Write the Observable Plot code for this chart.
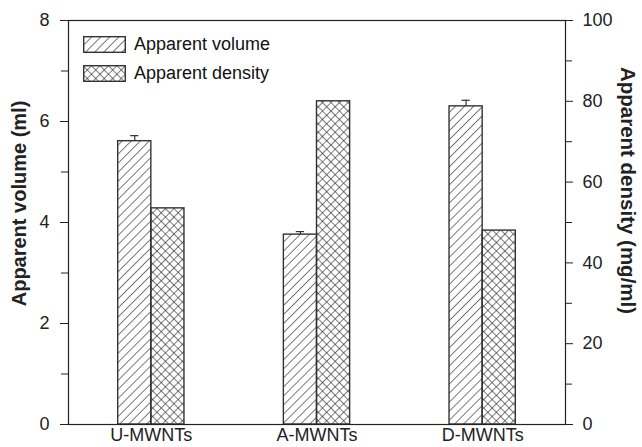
<!DOCTYPE html>
<html>
<head>
<meta charset="utf-8">
<script src="https://cdn.jsdelivr.net/npm/d3@7"></script>
<script src="https://cdn.jsdelivr.net/npm/@observablehq/plot@0.6"></script>
<style>
  body { margin: 0; background: #fff; }
  #chart { position: relative; width: 642px; height: 447px; font-family: "Liberation Sans", Arial, sans-serif; }
  #legend { position: absolute; left: 83px; top: 36px; font-size: 18px; color: #111; }
  #legend .row { display: flex; align-items: center; height: 16px; margin-bottom: 13px; }
  #legend svg { margin-right: 8px; display: block; }
</style>
</head>
<body>
<svg width="0" height="0" style="position:absolute">
  <defs>
    <pattern id="hatch-volume" patternUnits="userSpaceOnUse" width="6.4" height="6.4" patternTransform="rotate(45)">
      <line x1="0" y1="0" x2="0" y2="6.4" stroke="#222" stroke-width="1.2"/>
    </pattern>
    <pattern id="hatch-density" patternUnits="userSpaceOnUse" width="6" height="6" patternTransform="rotate(45)">
      <line x1="0" y1="0" x2="0" y2="6" stroke="#222" stroke-width="1.2"/>
      <line x1="0" y1="0" x2="6" y2="0" stroke="#222" stroke-width="1.2"/>
    </pattern>
  </defs>
</svg>
<div id="chart"></div>
<script>
// Bulk properties of the three nanotube samples
const categories = ["U-MWNTs", "A-MWNTs", "D-MWNTs"];
const volume = [5.61, 3.76, 6.30];          // ml
const volumeErr = [0.11, 0.06, 0.12];       // ml
const density = [53.5, 80.0, 48.0];         // mg/ml
const volumeTicks = [0, 2, 4, 6, 8];
const volumeMinor = [1, 3, 5, 7];
const densityTicks = [0, 20, 40, 60, 80, 100];
const densityMinor = [10, 30, 50, 70, 90];

// density is drawn on the volume scale, rescaled so 100 mg/ml sits at 8 ml
const volMax = volumeTicks[volumeTicks.length - 1];
const denMax = densityTicks[densityTicks.length - 1];
const toVol = d => d * volMax / denMax;

const rows = categories.map((c, i) => ({
  pos: i + 1, name: c, volume: volume[i], err: volumeErr[i], density: density[i]
}));
const barW = 0.2;
const capW = 0.025;

const ink = "#222";
const plot = Plot.plot({
  width: 642,
  height: 447,
  marginLeft: 68,
  marginRight: 77,
  marginTop: 20,
  marginBottom: 23,
  style: { fontFamily: "Liberation Sans, Arial, sans-serif", fontSize: "18px", color: ink, background: "#fff" },
  x: { domain: [0.5, 3.5] },
  y: { domain: [0, volMax] },
  marks: [
    Plot.rectY(rows, { x1: d => d.pos - barW, x2: d => d.pos, y1: 0, y2: "volume",
      fill: "url(#hatch-volume)", stroke: "#333", strokeWidth: 1.4 }),
    Plot.rectY(rows, { x1: d => d.pos, x2: d => d.pos + barW, y1: 0, y2: d => toVol(d.density),
      fill: "url(#hatch-density)", stroke: "#333", strokeWidth: 1.4 }),
    // error bars on the volume bars
    Plot.ruleX(rows, { x: d => d.pos - barW / 2, y1: "volume", y2: d => d.volume + d.err, stroke: "#333", strokeWidth: 1.2 }),
    Plot.ruleY(rows, { y: d => d.volume + d.err, x1: d => d.pos - barW / 2 - capW, x2: d => d.pos - barW / 2 + capW, stroke: "#333", strokeWidth: 1.2 }),
    Plot.frame({ stroke: ink, strokeWidth: 1.2 }),
    // left axis: apparent volume
    Plot.axisY(volumeTicks, { anchor: "left", tickSize: 8, tickPadding: 11, tickFormat: v => String(v), label: null, stroke: ink }),
    Plot.axisY(volumeMinor, { anchor: "left", tickSize: 7, tickFormat: () => "", label: null, stroke: ink }),
    // right axis: apparent density
    Plot.axisY(densityTicks.map(toVol), { anchor: "right", tickSize: 7, tickPadding: 10,
      tickFormat: v => String(Math.round(v * denMax / volMax)), label: null, stroke: ink }),
    Plot.axisY(densityMinor.map(toVol), { anchor: "right", tickSize: 6, tickFormat: () => "", label: null, stroke: ink }),
    // category axis
    Plot.axisX(rows.map(d => d.pos), { tickSize: 0, tickPadding: 4, tickFormat: p => categories[p - 1], label: null }),
    // axis titles
    Plot.text(["Apparent volume (ml)"], { text: d => d, frameAnchor: "left", textAnchor: "middle", rotate: -90,
      dx: -49, dy: -19, fontWeight: "bold", fontSize: 20, fill: ink }),
    Plot.text(["Apparent density (mg/ml)"], { text: d => d, frameAnchor: "right", textAnchor: "middle", rotate: 90,
      dx: 62, dy: -32, fontWeight: "bold", fontSize: 20.5, fill: ink })
  ]
});

const chart = document.getElementById("chart");
chart.appendChild(plot);

// legend overlaid in the upper-left corner of the plot area
const legend = d3.select(chart).append("div").attr("id", "legend");
[["Apparent volume", "url(#hatch-volume)"], ["Apparent density", "url(#hatch-density)"]].forEach(([label, fill]) => {
  const row = legend.append("div").attr("class", "row");
  const sw = row.append("svg").attr("width", 43).attr("height", 17);
  sw.append("rect").attr("x", 0.7).attr("y", 0.7).attr("width", 41.6).attr("height", 15.6)
    .attr("fill", fill).attr("stroke", "#333").attr("stroke-width", 1.4);
  row.append("span").text(label);
});
</script>
</body>
</html>
